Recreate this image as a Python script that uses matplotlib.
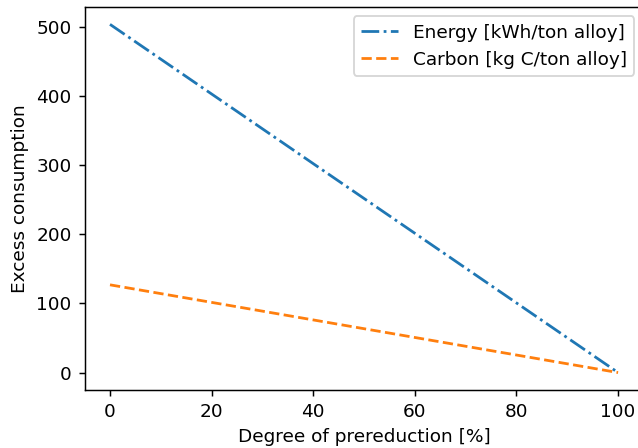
import matplotlib
matplotlib.use("Agg")
import matplotlib.pyplot as plt
import numpy as np

# prereduction degree [%] and excess consumption at the end points
prereduction = [0, 100]
energy = [504, 0]    # kWh/ton alloy
carbon = [127, 0]    # kg C/ton alloy

DPI = 133
fig = plt.figure(figsize=(638 / DPI, 448 / DPI), dpi=DPI)
ax = fig.add_axes([0.1326, 0.1295, 0.876, 0.855])

ax.plot(prereduction, energy, '-.', color='tab:blue', label='Energy [kWh/ton alloy]')
ax.plot(prereduction, carbon, '--', color='tab:orange', label='Carbon [kg C/ton alloy]')

ax.set_xlabel('Degree of prereduction [%]')
ax.set_ylabel('Excess consumption')
ax.legend(loc='upper right')

plt.savefig('out.png', dpi=DPI)
